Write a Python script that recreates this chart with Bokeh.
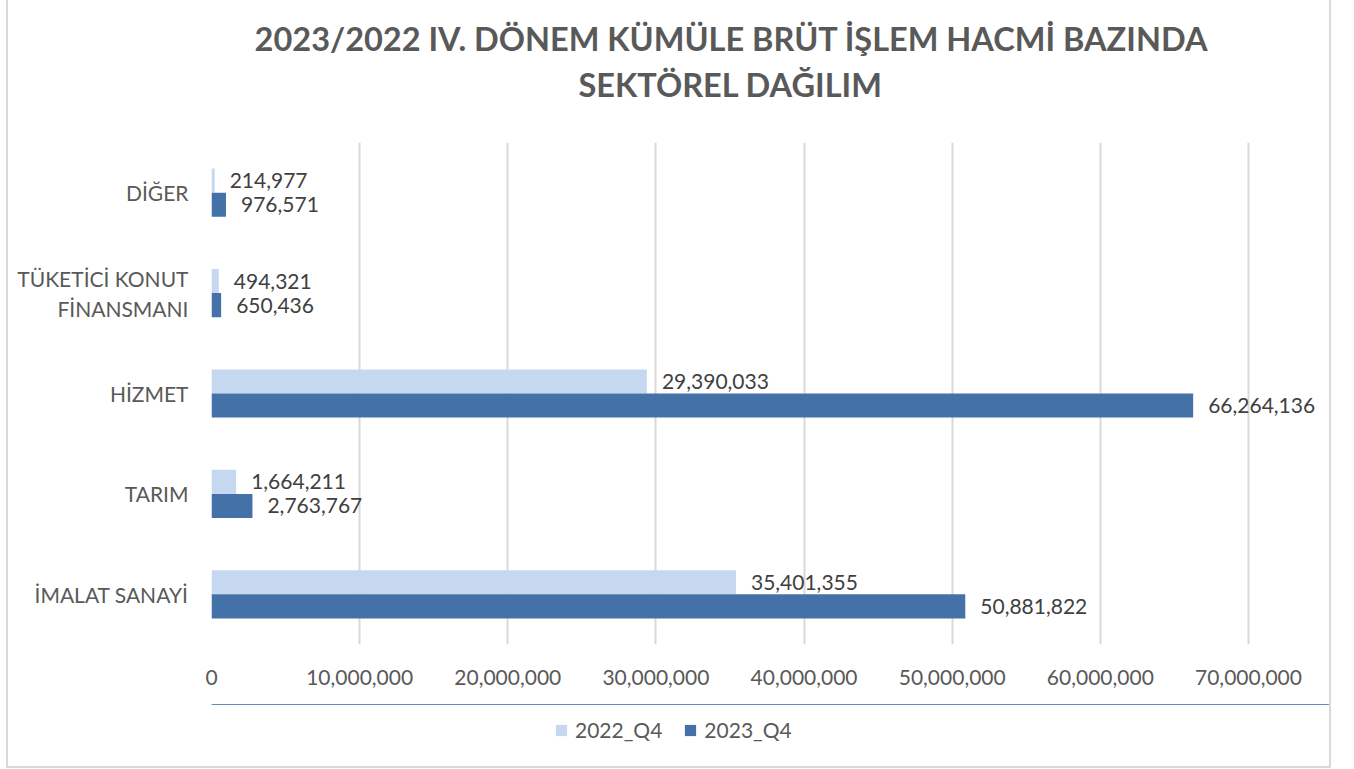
from bokeh.plotting import figure
from bokeh.layouts import column
from bokeh.models import (FactorRange, Range1d, NumeralTickFormatter, Legend, LegendItem,
                          ColumnDataSource, FixedTicker)
from bokeh.transform import dodge
from bokeh.core.properties import value
from bokeh.embed import file_html
from bokeh.resources import INLINE

categories = ["İMALAT SANAYİ", "TARIM", "HİZMET", "TÜKETİCİ KONUT\nFİNANSMANI", "DİĞER"]
q4_2022 = [35401355, 1664211, 29390033, 494321, 214977]
q4_2023 = [50881822, 2763767, 66264136, 650436, 976571]
series_names = ["2022_Q4", "2023_Q4"]
x_ticks = [0, 10000000, 20000000, 30000000, 40000000, 50000000, 60000000, 70000000]
title_lines = ["2023/2022 IV. DÖNEM KÜMÜLE BRÜT İŞLEM HACMİ BAZINDA", "SEKTÖREL DAĞILIM"]

FONT = "Lato"
LIGHT = "#c6d8f0"
DARK = "#4472a8"
GRID = "#d9d9d9"
AXIS_TXT = "#595959"
LBL_TXT = "#404040"
FS = "21px"

# visible axis spans 0..70M over 1037px; frame extended to the right for data labels
FRAME_W_VISIBLE = 1037
FRAME_W = 1118
CANVAS_W = 203 + FRAME_W
x_end = x_ticks[-1] * FRAME_W / FRAME_W_VISIBLE

src = ColumnDataSource(dict(
    cat=categories,
    a=q4_2022,
    b=q4_2023,
    la=[f"{v:,}" for v in q4_2022],
    lb=[f"{v:,}" for v in q4_2023],
))

p = figure(frame_width=FRAME_W, frame_height=502, output_backend="svg", toolbar_location=None,
           y_range=FactorRange(factors=categories, range_padding=0),
           x_range=Range1d(0, x_end),
           min_border_left=203, min_border_right=0, min_border_top=170, min_border_bottom=60)
p.outline_line_color = None

r1 = p.hbar(y=dodge("cat", 0.12, range=p.y_range), right="a", left=0, height=0.24,
            source=src, fill_color=LIGHT, line_color=None)
r2 = p.hbar(y=dodge("cat", -0.12, range=p.y_range), right="b", left=0, height=0.24,
            source=src, fill_color=DARK, line_color=None)

p.text(x="a", y=dodge("cat", 0.12, range=p.y_range), text="la", source=src, x_offset=15,
       text_baseline="middle", text_align="left", text_font=value(FONT),
       text_font_size=FS, text_color=LBL_TXT)
p.text(x="b", y=dodge("cat", -0.12, range=p.y_range), text="lb", source=src, x_offset=15,
       text_baseline="middle", text_align="left", text_font=value(FONT),
       text_font_size=FS, text_color=LBL_TXT)

# axes
p.xaxis.ticker = FixedTicker(ticks=x_ticks)
p.xaxis.formatter = NumeralTickFormatter(format="0,0")
for ax in (p.xaxis[0], p.yaxis[0]):
    ax.axis_line_color = None
    ax.major_tick_line_color = None
    ax.minor_tick_line_color = None
    ax.major_label_text_font = FONT
    ax.major_label_text_font_size = FS
    ax.major_label_text_color = AXIS_TXT
p.xaxis.major_label_standoff = 19
p.yaxis.major_label_standoff = 17
p.yaxis.major_label_overrides = {categories[3]: "TÜKETİCİ KONUT\nFİNANSMANI\u00a0\u00a0\u00a0\u00a0"}

p.xgrid.grid_line_color = GRID
p.xgrid.grid_line_width = 2
p.ygrid.grid_line_color = None

# title: two lines; no-break spaces centre the second line and shift the block left
nb = "\u00a0"
p.title.text = title_lines[0] + nb * 10 + "\n" + nb * 41 + title_lines[1]
p.title.align = "center"
p.title.text_font = FONT
p.title.text_font_size = "32.5px"
p.title.text_font_style = "bold"
p.title.text_color = AXIS_TXT
p.title.text_line_height = 1.17
p.title.standoff = 77

# legend strip below the chart (its swatch renderers use the series data, lying outside the strip's view)
lg = figure(width=CANVAS_W, height=62, output_backend="svg", toolbar_location=None,
            x_range=Range1d(0, 1), y_range=Range1d(0, 1),
            x_axis_location=None, y_axis_location=None,
            min_border_left=0, min_border_right=0, min_border_top=0, min_border_bottom=0)
lg.outline_line_color = None
lg.xgrid.visible = False
lg.ygrid.visible = False
lr1 = lg.hbar(y="a", right="a", left=0, height=1, source=src, fill_color=LIGHT, line_color=None)
lr2 = lg.hbar(y="b", right="b", left=0, height=1, source=src, fill_color=DARK, line_color=None)

legend = Legend(items=[LegendItem(label=series_names[0], renderers=[lr1]),
                       LegendItem(label=series_names[1], renderers=[lr2])],
                orientation="horizontal", location=(343, 24),
                label_text_font=FONT, label_text_font_size=FS, label_text_color=AXIS_TXT,
                glyph_width=14, glyph_height=14, spacing=21, border_line_color=None,
                background_fill_alpha=0, margin=0, padding=0, label_standoff=7)
lg.add_layout(legend, "center")

layout = column(p, lg, spacing=0)
layout.styles = {"margin-left": "6px",
                 "margin-top": "-28px",
                 "border-left": "2px solid #d9d9d9",
                 "border-right": "2px solid #d9d9d9",
                 "border-bottom": "2px solid #d9d9d9"}

open("out.html", "w").write(file_html(layout, INLINE))
